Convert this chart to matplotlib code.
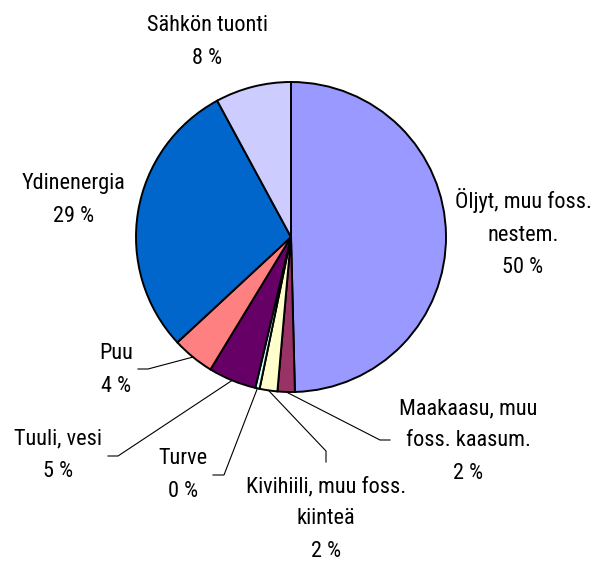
import numpy as np
import matplotlib
matplotlib.use("Agg")
from matplotlib import pyplot as plt

# energy sources, clockwise from 12 o'clock
sources = ["Öljyt, muu foss.\nnestem.", "Maakaasu, muu\nfoss. kaasum.",
           "Kivihiili, muu foss.\nkiinteä", "Turve", "Tuuli, vesi", "Puu",
           "Ydinenergia", "Sähkön tuonti"]
shares = [49.6, 1.8, 1.85, 0.45, 5.0, 4.4, 29.0, 7.9]
colors = ["#9999FF", "#993366", "#FFFFCC", "#CCFFFF", "#660066", "#FF8080",
          "#0066CC", "#CCCCFF"]

plt.rcParams["font.family"] = ["Liberation Sans Narrow", "Arial Narrow",
                               "Roboto Condensed", "Archivo Narrow",
                               "Liberation Sans", "DejaVu Sans"]
import logging
logging.getLogger("matplotlib.font_manager").setLevel(logging.ERROR)

W, H = 597, 561
fig = plt.figure(figsize=(W / 100, H / 100), dpi=100)
ax = fig.add_axes([0, 0, 1, 1])

cx, cy, r = 291, H - 237, 155
wedges, _ = ax.pie(shares, colors=colors, startangle=90, counterclock=False,
                   center=(cx, cy), radius=r,
                   wedgeprops=dict(edgecolor="black", linewidth=1.4))
ax.set_xlim(0, W)
ax.set_ylim(0, H)
ax.set_aspect("equal")
ax.axis("off")

# label block centres in pixels (y from top)
label_pos = [(523, 233), (468, 441), (326, 519), (183, 475), (58, 455),
             (116, 370), (74, 200), (207, 42)]
# leader line elbow and end (pixels), None for labels without a line
leaders = [None, [(380, 440), (390, 440)], [(326, 451), (326, 462)],
           [(224, 475), (213, 475)], [(118, 456), (108, 456)],
           [(148, 369), (138, 369)], None, None]

total = sum(shares)
for w, name, v, (lx, ly), ld in zip(wedges, sources, shares, label_pos, leaders):
    pct = int(round(v / total * 100))
    ax.text(lx, H - ly, f"{name}\n{pct} %", ha="center", va="center",
            multialignment="center", fontsize=16, linespacing=1.7)
    if ld:
        mid = np.deg2rad((w.theta1 + w.theta2) / 2)
        xs = [cx + r * np.cos(mid)] + [p[0] for p in ld]
        ys = [cy + r * np.sin(mid)] + [H - p[1] for p in ld]
        ax.plot(xs, ys, color="black", lw=0.8)

fig.savefig("out.png", dpi=100)
